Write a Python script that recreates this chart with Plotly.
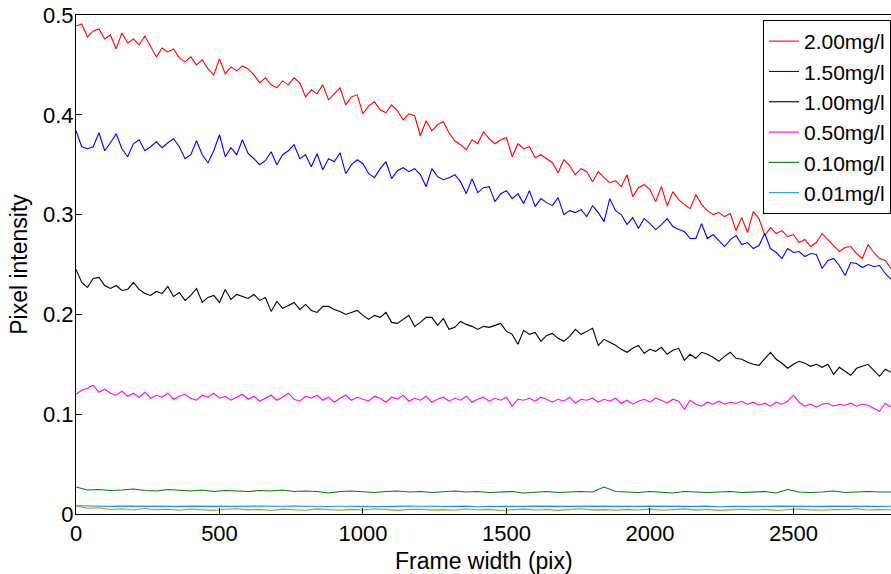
import numpy as np
import plotly.graph_objects as go

# Sampling step (pixels along the frame) of the intensity profiles
STEP_MAIN = 20
STEP_LOW = 40

red_200 = [
    .489, .491, .478, .484, .486, .476, .480, .466, .482, .472, .476, .470, .479, .468, .458, .467,
    .463, .466, .457, .453, .458, .450, .455, .446, .440, .456, .441, .448, .444, .449, .446, .440,
    .432, .437, .430, .427, .434, .430, .437, .432, .418, .425, .421, .430, .415, .421, .427, .410,
    .418, .420, .401, .409, .413, .405, .402, .410, .404, .395, .401, .399, .379, .394, .384, .390,
    .393, .382, .374, .370, .365, .375, .371, .383, .376, .371, .375, .377, .358, .371, .366, .368,
    .357, .360, .356, .352, .342, .355, .349, .340, .346, .343, .333, .343, .337, .332, .334, .328,
    .340, .318, .327, .330, .325, .313, .328, .309, .323, .315, .310, .306, .320, .310, .304, .300,
    .302, .298, .301, .284, .297, .282, .303, .296, .279, .287, .281, .284, .278, .280, .272, .275,
    .268, .272, .281, .275, .270, .263, .267, .268, .261, .256, .270, .262, .256, .254, .246,
]

blue_150 = [
    .384, .368, .366, .368, .382, .364, .372, .381, .366, .358, .371, .375, .364, .368, .373, .367,
    .372, .376, .368, .356, .360, .374, .360, .352, .364, .380, .358, .367, .360, .375, .361, .356,
    .350, .354, .363, .350, .360, .364, .370, .356, .360, .348, .361, .345, .356, .353, .362, .341,
    .350, .355, .351, .341, .337, .346, .353, .336, .344, .347, .343, .346, .340, .328, .346, .338,
    .335, .337, .340, .333, .321, .336, .322, .327, .328, .313, .321, .324, .316, .321, .311, .324,
    .308, .316, .312, .309, .317, .300, .304, .302, .305, .298, .309, .302, .293, .316, .304, .300,
    .290, .297, .286, .296, .291, .285, .290, .296, .288, .285, .283, .276, .276, .291, .276, .280,
    .274, .268, .275, .279, .270, .272, .266, .269, .281, .266, .262, .256, .266, .262, .263, .258,
    .261, .260, .246, .254, .256, .249, .239, .252, .251, .247, .250, .248, .249, .241, .235,
]

black_100 = [
    .245, .232, .227, .236, .237, .229, .226, .229, .224, .225, .232, .225, .221, .219, .223, .221,
    .228, .218, .222, .214, .219, .226, .212, .217, .219, .212, .225, .215, .220, .218, .216, .220,
    .214, .217, .203, .213, .206, .209, .212, .205, .210, .204, .202, .208, .208, .205, .203, .200,
    .202, .204, .199, .195, .199, .197, .202, .192, .191, .195, .199, .188, .192, .197, .197, .189,
    .196, .185, .187, .193, .190, .188, .185, .188, .187, .189, .191, .183, .180, .170, .184, .180,
    .182, .173, .179, .181, .176, .173, .178, .185, .180, .183, .186, .169, .175, .172, .169, .165,
    .162, .166, .169, .161, .165, .163, .167, .160, .164, .166, .154, .160, .156, .162, .160, .157,
    .153, .158, .162, .156, .155, .152, .150, .149, .156, .162, .155, .151, .146, .150, .153, .151,
    .148, .150, .147, .150, .140, .147, .143, .139, .146, .148, .150, .144, .138, .145, .142,
]

magenta_050 = [
    .120, .124, .126, .129, .122, .125, .121, .119, .123, .118, .121, .117, .122, .116, .119, .117,
    .121, .115, .118, .120, .116, .114, .119, .117, .121, .116, .118, .114, .117, .120, .115, .118,
    .113, .116, .119, .114, .117, .121, .115, .113, .118, .116, .119, .114, .117, .112, .116, .119,
    .114, .117, .115, .113, .118, .116, .112, .117, .115, .119, .113, .116, .114, .118, .112, .115,
    .117, .113, .116, .114, .118, .112, .115, .117, .113, .116, .114, .117, .108, .115, .114, .116,
    .113, .117, .115, .112, .115, .113, .117, .111, .115, .114, .116, .112, .115, .113, .116, .111,
    .114, .110, .113, .115, .112, .116, .114, .111, .115, .113, .105, .114, .110, .108, .112, .110,
    .113, .110, .112, .111, .113, .110, .112, .109, .111, .108, .112, .110, .113, .119, .112, .108,
    .110, .107, .110, .111, .108, .110, .109, .111, .108, .110, .109, .106, .103, .111, .107,
]

green_010 = [
    .0270, .0240, .0245, .0235, .0240, .0250, .0235, .0230, .0245, .0235, .0230, .0240, .0225, .0235, .0230, .0225,
    .0235, .0230, .0240, .0225, .0230, .0225, .0210, .0225, .0230, .0225, .0215, .0225, .0230, .0220, .0225, .0215,
    .0225, .0230, .0220, .0225, .0215, .0220, .0225, .0210, .0220, .0225, .0215, .0220, .0225, .0220, .0270, .0225,
    .0220, .0215, .0225, .0220, .0210, .0225, .0220, .0215, .0220, .0225, .0215, .0220, .0225, .0210, .0245, .0220,
    .0215, .0220, .0230, .0215, .0220, .0225, .0220, .0220,
]

cyan_001 = [
    .0082, .0078, .0080, .0076, .0079, .0077, .0080, .0075, .0078, .0076, .0079, .0077, .0074, .0078, .0076, .0079,
    .0077, .0075, .0078, .0080, .0076, .0078, .0075, .0077, .0079, .0076, .0074, .0078, .0076, .0079, .0077, .0075,
    .0078, .0076, .0079, .0072, .0077, .0075, .0078, .0076, .0079, .0077, .0074, .0078, .0076, .0079, .0077, .0075,
    .0078, .0076, .0079, .0077, .0074, .0078, .0076, .0079, .0073, .0077, .0075, .0078, .0076, .0079, .0077, .0075,
    .0078, .0076, .0079, .0077, .0075, .0078, .0076, .0077,
]

orange_000 = [
    .0080, .0058, .0062, .0045, .0052, .0040, .0055, .0043, .0048, .0038, .0050, .0044, .0036, .0047, .0052, .0041,
    .0046, .0035, .0049, .0043, .0038, .0051, .0044, .0037, .0046, .0040, .0053, .0042, .0036, .0045, .0048, .0039,
    .0044, .0037, .0050, .0042, .0046, .0035, .0043, .0049, .0040, .0045, .0036, .0047, .0052, .0041, .0044, .0038,
    .0046, .0040, .0049, .0037, .0043, .0051, .0039, .0045, .0036, .0044, .0048, .0040, .0046, .0035, .0043, .0050,
    .0041, .0037, .0045, .0042, .0053, .0040, .0044, .0042,
]

series = [
    ("2.00mg/l", red_200, STEP_MAIN, "#ff0000", True),
    ("1.50mg/l", blue_150, STEP_MAIN, "#0000ff", True),
    ("1.00mg/l", black_100, STEP_MAIN, "#000000", True),
    ("0.50mg/l", magenta_050, STEP_MAIN, "#ff00ff", True),
    ("0.10mg/l", green_010, STEP_LOW, "#008000", True),
    ("0.01mg/l", cyan_001, STEP_LOW, "#1a9be6", True),
    ("0.00mg/l", orange_000, STEP_LOW, "#cc8a14", False),
]

FONT = "Liberation Sans, Arial, Helvetica, sans-serif"

fig = go.Figure()
for name, vals, step, color, show in series:
    x = np.arange(len(vals)) * step
    fig.add_trace(go.Scatter(
        x=x, y=vals, mode="lines", name=name, showlegend=show,
        line=dict(color=color, width=1.1),
    ))

fig.update_layout(
    width=891, height=574,
    margin=dict(l=76, r=0, t=15, b=60),
    paper_bgcolor="white", plot_bgcolor="white",
    font=dict(family=FONT, size=23, color="black"),
    legend=dict(
        x=1, xanchor="right", y=0.99, yanchor="top",
        bgcolor="white", bordercolor="black", borderwidth=1,
        font=dict(size=21), itemwidth=30, tracegroupgap=0,
    ),
    xaxis=dict(
        range=[0, 2840], tickvals=[0, 500, 1000, 1500, 2000, 2500],
        ticks="inside", ticklen=6, tickcolor="black",
        showline=True, linecolor="black", linewidth=1, mirror=True,
        showgrid=False, zeroline=False,
        tickfont=dict(size=22), ticklabelstandoff=0,
    ),
    yaxis=dict(
        range=[0, 0.5], tickvals=[0, 0.1, 0.2, 0.3, 0.4, 0.5],
        ticktext=["0", "0.1", "0.2", "0.3", "0.4", "0.5"],
        ticks="inside", ticklen=6, tickcolor="black",
        showline=True, linecolor="black", linewidth=1, mirror=True,
        showgrid=False, zeroline=False,
        title=dict(text="Pixel intensity", standoff=8, font=dict(size=23)),
        tickfont=dict(size=22), ticklabelstandoff=-3,
    ),
    annotations=[dict(
        text="Frame width (pix)", xref="paper", yref="paper",
        x=0.5, y=-0.094, xanchor="center", yanchor="middle",
        showarrow=False, font=dict(size=23),
    )],
)

fig.write_html("out.html")
